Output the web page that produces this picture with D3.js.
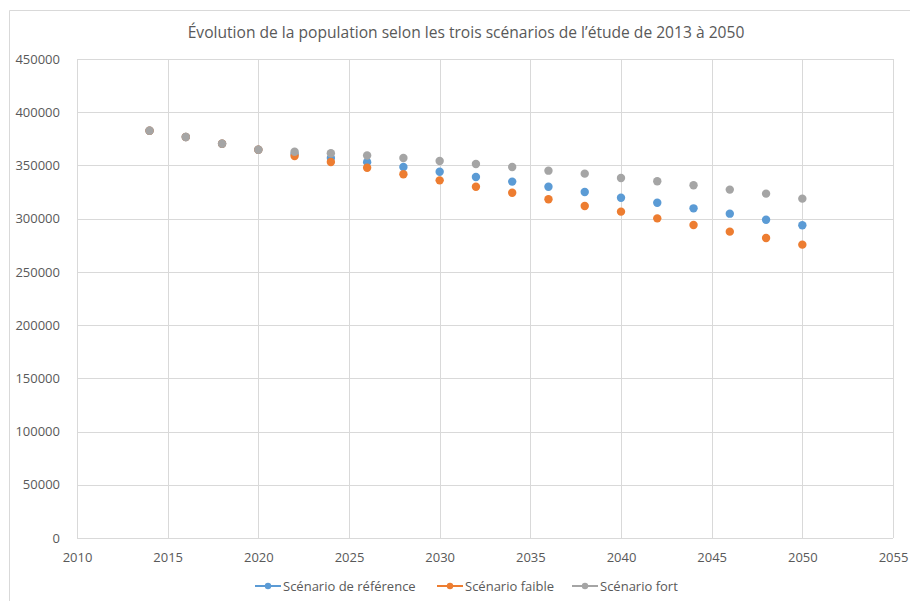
<!DOCTYPE html>
<html>
<head>
<meta charset="utf-8">
<script src="https://cdn.jsdelivr.net/npm/d3@7"></script>
<style>
  body { margin: 0; background: #fff; }
  text { font-family: "Open Sans", "Noto Sans", sans-serif; fill: #595959; }
</style>
</head>
<body>
<div id="chart"></div>
<script>
// Data
var years       = [2014, 2016, 2018, 2020, 2022, 2024, 2026, 2028, 2030, 2032, 2034, 2036, 2038, 2040, 2042, 2044, 2046, 2048, 2050];
var reference   = [382600, 376700, 370400, 364800, 360800, 357000, 353100, 348500, 344100, 339200, 334800, 330000, 325000, 319700, 315000, 309700, 304700, 299000, 293800];
var faible      = [382600, 376700, 370400, 364800, 358900, 353300, 347900, 341700, 336000, 330000, 324400, 318200, 311900, 306600, 300300, 294100, 287800, 281800, 275600];
var fort        = [382600, 376700, 370400, 364800, 362900, 361400, 359400, 357000, 354200, 351400, 348500, 345100, 342300, 338200, 335100, 331400, 327300, 323500, 318800];
var seriesNames = ["Scénario de référence", "Scénario faible", "Scénario fort"];
var xTicks      = [2010, 2015, 2020, 2025, 2030, 2035, 2040, 2045, 2050, 2055];
var yTicks      = [0, 50000, 100000, 150000, 200000, 250000, 300000, 350000, 400000, 450000];

var colors = ["#5B9BD5", "#ED7D31", "#A5A5A5"];
var series = [reference, faible, fort];

//Width and height
var chart_width  = 910;
var chart_height = 601;

var svg = d3.select("#chart")
    .append("svg")
    .attr("width", chart_width)
    .attr("height", chart_height);

// chart area border
svg.append("path")
    .attr("d", "M9.5,601 V10.5 H910")
    .style("fill", "none")
    .style("stroke", "#d9d9d9");

var x = d3.scaleLinear().domain([2010, 2055]).range([77, 893]);
var y = d3.scaleLinear().domain([0, 450000]).range([538, 59]);

// Gridlines
svg.append("g").selectAll("line")
    .data(yTicks)
    .enter()
    .append("line")
    .attr("x1", x(2010)).attr("x2", x(2055))
    .attr("y1", d => Math.round(y(d)) + 0.5)
    .attr("y2", d => Math.round(y(d)) + 0.5)
    .style("stroke", "#d9d9d9");

svg.append("g").selectAll("line")
    .data(xTicks)
    .enter()
    .append("line")
    .attr("x1", d => Math.round(x(d)) + 0.5)
    .attr("x2", d => Math.round(x(d)) + 0.5)
    .attr("y1", y(450000)).attr("y2", y(0))
    .style("stroke", "#d9d9d9");

// Axes labels
var yAxis = svg.append("g")
    .attr("transform", "translate(" + (x(2010) - 14) + ",0)")
    .call(d3.axisLeft(y).tickValues(yTicks).tickFormat(d3.format("d")).tickSize(0));
var xAxis = svg.append("g")
    .attr("transform", "translate(0," + (y(0) + 12) + ")")
    .call(d3.axisBottom(x).tickValues(xTicks).tickFormat(d3.format("d")).tickSize(0));
[yAxis, xAxis].forEach(function(a) {
    a.select(".domain").remove();
    a.selectAll("text")
        .style("font-size", "13px")
        .style("fill", "#595959")
        .style("font-family", "'Open Sans', sans-serif");
});

// Title
svg.append("text")
    .attr("x", 466)
    .attr("y", 38)
    .attr("text-anchor", "middle")
    .style("font-size", "15.6px")
    .text("Évolution de la population selon les trois scénarios de l’étude de 2013 à 2050");

// Points
series.forEach(function(values, s) {
    svg.append("g").selectAll("circle")
        .data(values)
        .enter()
        .append("circle")
        .attr("cx", (d, i) => x(years[i]))
        .attr("cy", d => y(d))
        .attr("r", 4.2)
        .style("fill", colors[s]);
});

// Legend
var legendX = [255, 437, 572];
var legend = svg.append("g").selectAll("g")
    .data(seriesNames)
    .enter()
    .append("g")
    .attr("transform", (d, i) => "translate(" + legendX[i] + ",586)");
legend.append("line")
    .attr("x1", 0).attr("x2", 26)
    .style("stroke", (d, i) => colors[i])
    .style("stroke-width", 2);
legend.append("circle")
    .attr("cx", 13).attr("r", 3.2)
    .style("fill", (d, i) => colors[i]);
legend.append("text")
    .attr("x", 28)
    .attr("dy", "0.35em")
    .style("font-size", "13px")
    .text(d => d);
</script>
</body>
</html>
